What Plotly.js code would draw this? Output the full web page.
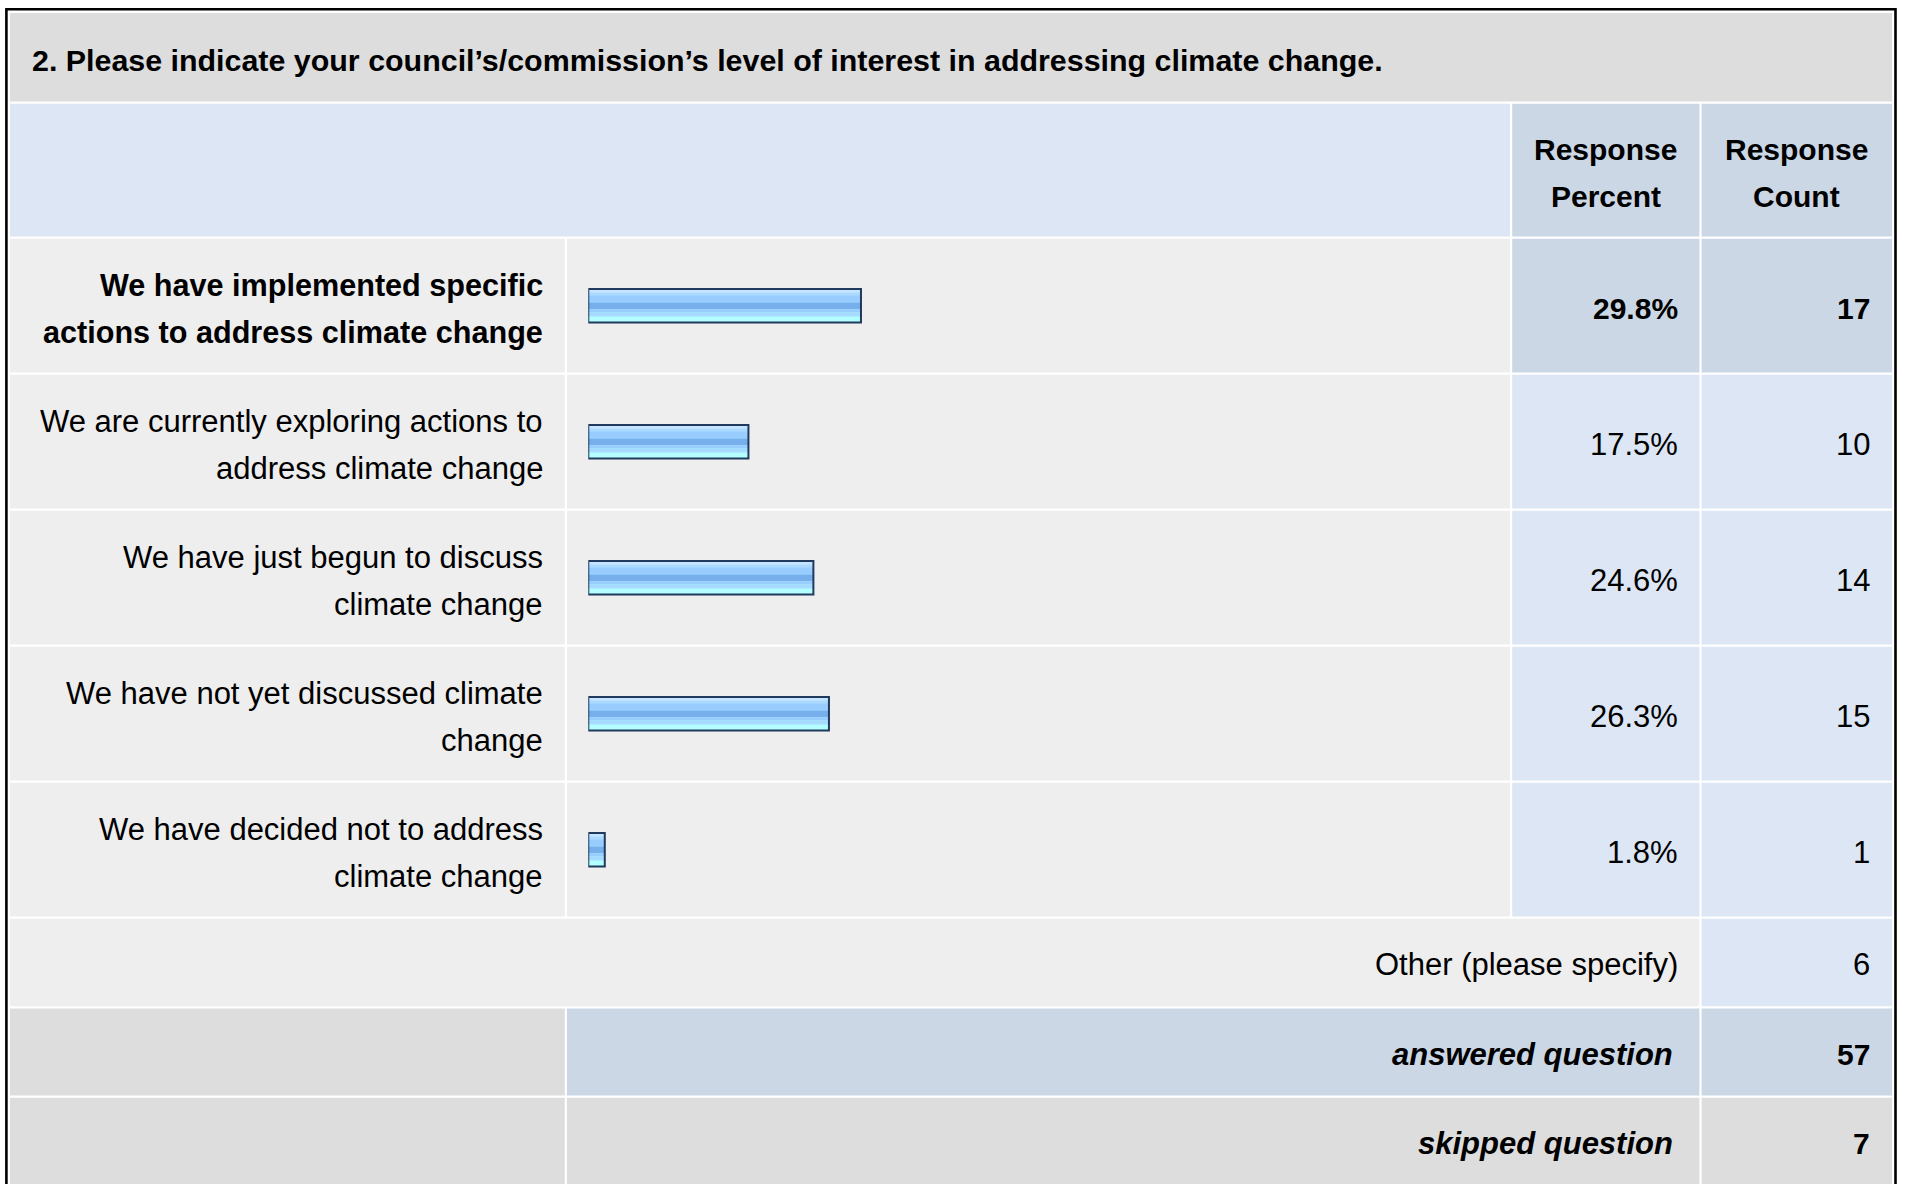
<!DOCTYPE html>
<html><head><meta charset="utf-8">
<script src="https://cdn.plot.ly/plotly-3.0.1.min.js"></script>
<style>html,body{margin:0;padding:0;background:#fff;overflow:hidden}#chart{width:1907px;height:1184px}</style>
</head><body><div id="chart"></div>
<script>
// ---------------- data ----------------
const questionTitle = "2. Please indicate your council’s/commission’s level of interest in addressing climate change.";
const columnHeaders = ["Response\nPercent", "Response\nCount"];
const categories = [
  "We have implemented specific\nactions to address climate change",
  "We are currently exploring actions to\naddress climate change",
  "We have just begun to discuss\nclimate change",
  "We have not yet discussed climate\nchange",
  "We have decided not to address\nclimate change"
];
const responsePercent = [29.8, 17.5, 24.6, 26.3, 1.8];
const responseCount = [17, 10, 14, 15, 1];
const otherLabel = "Other (please specify)";
const otherCount = 6;
const summaryLabels = ["answered question", "skipped question"];
const summaryCounts = [57, 7];

// ---------------- layout geometry (px) ----------------
const W = 1907, H = 1184;
const X = px => px / W;
const Y = px => 1 - px / H;
const ROW0 = 237.7, ROWH = 136;
const COL = {labL: 10, labR: 564.8, barL: 566.9, barR: 1510.0, pctL: 1512.2, pctR: 1699.4, cntL: 1701.6, cntR: 1892};
const G = 1.1;
const C = {title: '#DDDDDD', head: '#DCE6F4', headDark: '#CBD7E5', row: '#EEEEEE', gray: '#DDDDDD'};
const FONT = 'Liberation Sans, Arial, Helvetica, sans-serif';
const FS_REG = 31, FS_BOLD = 30, FS_BI = 31, FS_BLAB = 30.6, FS_TITLE = 30.4;
const LINE = 46.7;
const hi = responsePercent.indexOf(Math.max(...responsePercent));

const shapes = [];
function rect(x0, x1, y0, y1, color) {
  shapes.push({type: 'rect', xref: 'paper', yref: 'paper', x0: X(x0), x1: X(x1), y0: Y(y1), y1: Y(y0),
    fillcolor: color, line: {width: 0}, layer: 'below'});
}
const annotations = [];
function txt(text, x, y, anchor, size) {
  annotations.push({xref: 'paper', yref: 'paper', x: X(x), y: Y(y), xanchor: anchor, yanchor: 'middle',
    text: text, showarrow: false, borderpad: 0, borderwidth: 0,
    font: {family: FONT, size: size, color: '#000'}});
}
const plain = s => s, bold = s => '<b>' + s + '</b>', boldItal = s => '<b><i>' + s + '</i></b>';
function lines(str, x, yMid, anchor, wrap, size) {
  const parts = str.split('\n');
  const n = parts.length;
  parts.forEach((p, i) => txt(wrap(p), x, yMid + (i - (n - 1) / 2) * LINE, anchor, size));
}

// title row
rect(COL.labL, COL.cntR, 13, 101.6, C.title);
txt(bold(questionTitle), 32, 60, 'left', FS_TITLE);
// header row
rect(COL.labL, COL.barR, 103.8, 236.6, C.head);
rect(COL.pctL, COL.pctR, 103.8, 236.6, C.headDark);
rect(COL.cntL, COL.cntR, 103.8, 236.6, C.headDark);
lines(columnHeaders[0], (COL.pctL + COL.pctR) / 2, 172.7, 'center', bold, FS_BOLD);
lines(columnHeaders[1], (COL.cntL + COL.cntR) / 2, 172.7, 'center', bold, FS_BOLD);

// data rows
categories.forEach((cat, i) => {
  const t = ROW0 + i * ROWH + G, b = ROW0 + (i + 1) * ROWH - G;
  const isHi = i === hi;
  rect(COL.labL, COL.labR, t, b, C.row);
  rect(COL.barL, COL.barR, t, b, C.row);
  rect(COL.pctL, COL.pctR, t, b, isHi ? C.headDark : C.head);
  rect(COL.cntL, COL.cntR, t, b, isHi ? C.headDark : C.head);
  const mid = ROW0 + (i + 0.5) * ROWH + 3;
  const f = isHi ? bold : plain;
  lines(cat, 542.5, mid, 'right', f, isHi ? FS_BLAB : FS_REG);
  txt(f(responsePercent[i].toFixed(1) + '%'), 1678, mid, 'right', isHi ? FS_BOLD : FS_REG);
  txt(f(String(responseCount[i])), 1870, mid, 'right', isHi ? FS_BOLD : FS_REG);
});

// other row
const oT = ROW0 + 5 * ROWH + G, oB = 1006.2;
rect(COL.labL, COL.pctR, oT, oB, C.row);
rect(COL.cntL, COL.cntR, oT, oB, C.head);
txt(otherLabel, 1678, 964.5, 'right', FS_REG);
txt(String(otherCount), 1870, 964.5, 'right', FS_REG);
// summary rows
const sumRows = [[1008.4, 1095.6, C.headDark], [1097.8, 1186, C.gray]];
summaryLabels.forEach((lab, i) => {
  const [t, b, col] = sumRows[i];
  rect(COL.labL, COL.labR, t, b, C.gray);
  rect(COL.barL, COL.pctR, t, b, col);
  rect(COL.cntL, COL.cntR, t, b, col);
  const mid = (t + b) / 2 + 2;
  txt(boldItal(lab), 1673, mid, 'right', FS_BI);
  txt(bold(String(summaryCounts[i])), 1870, mid, 'right', FS_BOLD);
});
// outer frame
shapes.push({type: 'rect', xref: 'paper', yref: 'paper', x0: X(6.4), x1: X(1895.5), y0: Y(1260), y1: Y(9.2),
  line: {width: 2.6, color: '#000'}, fillcolor: 'rgba(0,0,0,0)', layer: 'above'});

// ---------------- bars (gradient as stacked stripes) ----------------
const BAR_H = 33.5;         // px
const u = px => px / ROWH;  // px -> category units
const traces = [];
function barTrace(top, bot, color, line) {
  traces.push({type: 'bar', orientation: 'h', x: responsePercent, y: categories,
    offset: u(top), width: u(bot - top),
    marker: {color: color, line: line || {width: 0}},
    hoverinfo: 'skip', showlegend: false});
}
barTrace(-BAR_H / 2, BAR_H / 2, '#B3FFFF');
[[-15.8, -13.1, '#C6E4FF'], [-13.1, -10.5, '#AED6FF'], [-10.5, -3.1, '#99CCFF'],
 [-3.1, 3.5, '#77AEEC'], [3.5, 6.9, '#99CCFF'], [6.9, 10.9, '#A6DBFF']]
  .forEach(s => barTrace(s[0], s[1], s[2]));
barTrace(-BAR_H / 2, BAR_H / 2, 'rgba(0,0,0,0)', {width: 2, color: '#1F3A5E'});

const PX_PER_PCT = 9.15, BAR0 = 588.3;
const layout = {
  width: W, height: H, margin: {l: 0, r: 0, t: 0, b: 0, pad: 0},
  paper_bgcolor: '#fff', plot_bgcolor: 'rgba(0,0,0,0)', showlegend: false, barmode: 'overlay',
  xaxis: {domain: [X(BAR0), X(1511)], range: [0, (1511 - BAR0) / PX_PER_PCT], visible: false, fixedrange: true},
  yaxis: {domain: [Y(ROW0 + 5 * ROWH), Y(ROW0)], type: 'category', categoryorder: 'array', categoryarray: categories,
    range: [4.5, -0.5], visible: false, fixedrange: true},
  shapes: shapes, annotations: annotations
};
Plotly.newPlot('chart', traces, layout, {staticPlot: true, displayModeBar: false});
</script></body></html>
